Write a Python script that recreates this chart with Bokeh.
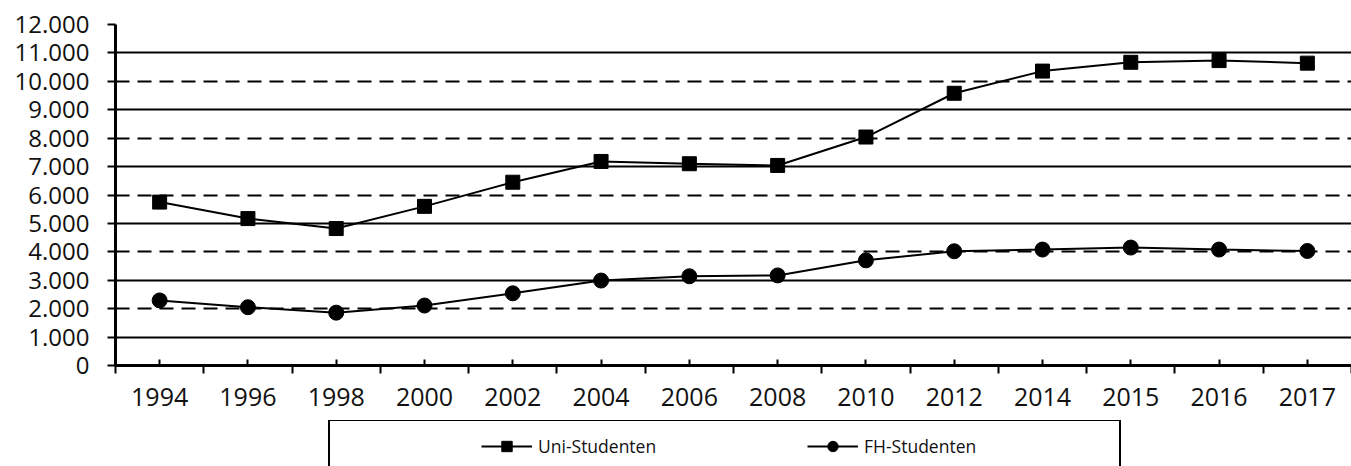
from bokeh.plotting import figure
from bokeh.models import FixedTicker, Grid, Range1d, Legend, LegendItem
from bokeh.layouts import column
from bokeh.embed import file_html
from bokeh.resources import INLINE

# ---- data ----
years = ["1994", "1996", "1998", "2000", "2002", "2004", "2006", "2008",
         "2010", "2012", "2014", "2015", "2016", "2017"]
uni_studenten = [5750, 5170, 4820, 5600, 6450, 7180, 7100, 7040,
                 8040, 9580, 10360, 10670, 10730, 10640]
fh_studenten = [2290, 2050, 1860, 2110, 2540, 2990, 3140, 3170,
                3700, 4020, 4080, 4150, 4080, 4030]
y_ticks = [0, 1000, 2000, 3000, 4000, 5000, 6000, 7000, 8000, 9000, 10000, 11000, 12000]
y_tick_labels = ["0", "1.000", "2.000", "3.000", "4.000", "5.000", "6.000",
                 "7.000", "8.000", "9.000", "10.000", "11.000", "12.000"]
series_names = ["Uni-Studenten", "FH-Studenten"]

FONT = "Open Sans"
n = len(years)
xpos = list(range(n))

W = 1351
p = figure(width=W, height=420, output_backend="svg", toolbar_location=None,
           x_range=Range1d(-0.5, n - 0.5), y_range=Range1d(0, 12000),
           min_border_left=115, min_border_right=0, min_border_top=24, min_border_bottom=55)
p.outline_line_color = None
p.background_fill_color = "white"
p.border_fill_color = "white"

# grids
p.xgrid.visible = False
p.ygrid.visible = False
solid_vals = [v for v in y_ticks if (v // 1000) % 2 == 1 or v == 12000]
dash_vals = [v for v in y_ticks if (v // 1000) % 2 == 0 and 0 < v < 12000]
g1 = Grid(dimension=1, ticker=FixedTicker(ticks=solid_vals),
          grid_line_color="black", grid_line_width=2)
g2 = Grid(dimension=1, ticker=FixedTicker(ticks=dash_vals),
          grid_line_color="black", grid_line_width=2, grid_line_dash="14 8")
p.add_layout(g1)
p.add_layout(g2)

# x axis
xa = p.xaxis[0]
xa.ticker = FixedTicker(ticks=xpos, minor_ticks=[i - 0.5 for i in range(n + 1)])
xa.major_label_overrides = {i: y for i, y in zip(xpos, years)}
xa.major_tick_in = 6
xa.major_tick_out = 0
xa.minor_tick_in = 0
xa.minor_tick_out = 8
xa.major_tick_line_width = 2
xa.minor_tick_line_width = 2
xa.major_tick_line_color = "black"
xa.minor_tick_line_color = "black"
xa.axis_line_width = 3
xa.axis_line_color = "black"
xa.major_label_text_font = FONT
xa.major_label_text_font_size = "25px"
xa.major_label_text_color = "#111111"
xa.major_label_standoff = 14

# y axis
ya = p.yaxis[0]
ya.ticker = FixedTicker(ticks=y_ticks)
ya.major_label_overrides = {v: l for v, l in zip(y_ticks, y_tick_labels)}
ya.major_tick_in = 0
ya.major_tick_out = 8
ya.major_tick_line_width = 2
ya.major_tick_line_color = "black"
ya.minor_tick_line_color = None
ya.axis_line_width = 3
ya.axis_line_color = "black"
ya.major_label_text_font = FONT
ya.major_label_text_font_size = "24px"
ya.major_label_text_color = "#111111"
ya.major_label_standoff = 18

# series
p.line(xpos, uni_studenten, line_color="black", line_width=2)
p.scatter(xpos, uni_studenten, marker="square", size=14, fill_color="black", line_color="black")
p.line(xpos, fh_studenten, line_color="black", line_width=2)
p.scatter(xpos, fh_studenten, marker="circle", size=15, fill_color="black", line_color="black")

# ---- legend strip (same frame as the chart; legend series kept outside its view) ----
lf = figure(width=W, height=46, output_backend="svg", toolbar_location=None,
            x_axis_location=None, y_axis_location=None,
            x_range=Range1d(-200, -100), y_range=Range1d(-2e5, -1e5),
            min_border_left=115, min_border_right=0, min_border_top=0, min_border_bottom=0)
lf.grid.visible = False
lf.outline_line_color = None
lf.background_fill_color = "white"
lf.border_fill_color = "white"
ll1 = lf.line(xpos, uni_studenten, line_color="black", line_width=2)
ls1 = lf.scatter(xpos, uni_studenten, marker="square", size=11, fill_color="black", line_color="black")
ll2 = lf.line(xpos, fh_studenten, line_color="black", line_width=2)
ls2 = lf.scatter(xpos, fh_studenten, marker="circle", size=11, fill_color="black", line_color="black")

legend = Legend(items=[LegendItem(label=series_names[0], renderers=[ll1, ls1]),
                       LegendItem(label=series_names[1], renderers=[ll2, ls2])],
                orientation="horizontal", location=(213, -7),
                title=" ", title_location="left", title_standoff=119,
                title_text_font_size="17px",
                border_line_color="black", border_line_width=2.5, border_line_alpha=1.0,
                background_fill_color="white", background_fill_alpha=1,
                padding=12, margin=0, spacing=26,
                glyph_width=51, glyph_height=26, label_standoff=6, label_width=243,
                label_text_font=FONT, label_text_font_size="17.5px", label_text_color="#111111")
lf.add_layout(legend)

layout = column(p, lf, spacing=0)
open("out.html", "w").write(file_html(layout, INLINE))
